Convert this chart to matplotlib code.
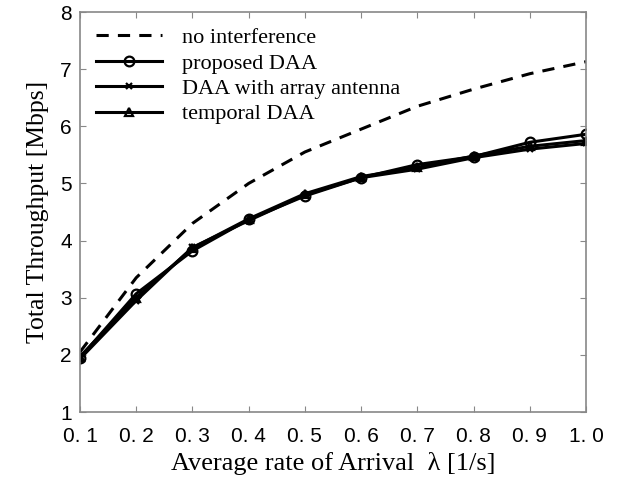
import numpy as np
import matplotlib.pyplot as plt

lam = [0.1, 0.2, 0.3, 0.4, 0.5, 0.6, 0.7, 0.8, 0.9, 1.0]
no_interf = [2.05, 3.35, 4.3, 5.0, 5.55, 5.95, 6.35, 6.65, 6.92, 7.13]
proposed = [1.95, 3.07, 3.82, 4.37, 4.78, 5.1, 5.33, 5.47, 5.72, 5.86]
array_ant = [1.93, 2.95, 3.88, 4.35, 4.8, 5.1, 5.25, 5.45, 5.6, 5.7]
temporal = [1.97, 3.0, 3.87, 4.38, 4.82, 5.12, 5.28, 5.48, 5.65, 5.75]

xticklabels = ['0. 1', '0. 2', '0. 3', '0. 4', '0. 5', '0. 6', '0. 7', '0. 8', '0. 9', '1. 0']

fig = plt.figure(figsize=(6.24, 4.82), dpi=100)
ax = fig.add_axes([80/624, 70/482, 506/624, 400/482])

ax.plot(lam, no_interf, 'k--', lw=2.2, dashes=(4, 3), label='no interference')
ax.plot(lam, proposed, 'k-', lw=2.2, marker='o', ms=7, mfc='none', mew=1.6, label='proposed DAA')
ax.plot(lam, array_ant, 'k-', lw=2.2, marker='x', ms=5, mew=1.6, label='DAA with array antenna')
ax.plot(lam, temporal, 'k-', lw=2.2, marker='^', ms=6, mfc='none', mew=1.6, label='temporal DAA')

ax.set_xlim(0.1, 1.0)
ax.set_ylim(1, 8)
ax.set_xticks(lam)
ax.set_xticklabels(xticklabels)
ax.set_yticks(range(1, 9))
ax.tick_params(direction='in', length=4, color='#888888', labelsize=15)
ax.tick_params(axis='x', pad=11)
ax.tick_params(axis='y', pad=6)
ax.tick_params(top=True, right=True)
for lbl in ax.get_xticklabels() + ax.get_yticklabels():
    lbl.set_fontfamily('Liberation Sans')
for s in ax.spines.values():
    s.set_color('#888888')
    s.set_linewidth(1.2)

ax.set_xlabel('Average rate of Arrival  λ [1/s]', family='Liberation Serif', fontsize=19, labelpad=4)
ax.set_ylabel('Total Throughput [Mbps]', family='Liberation Serif', fontsize=18.5, labelpad=8)

leg = ax.legend(loc='upper left', frameon=False, prop={'family': 'Liberation Serif', 'size': 16},
                handlelength=3.0, labelspacing=0.22, borderaxespad=0.4, handletextpad=0.9,
                borderpad=0.3)

fig.savefig('out.png', dpi=100)
